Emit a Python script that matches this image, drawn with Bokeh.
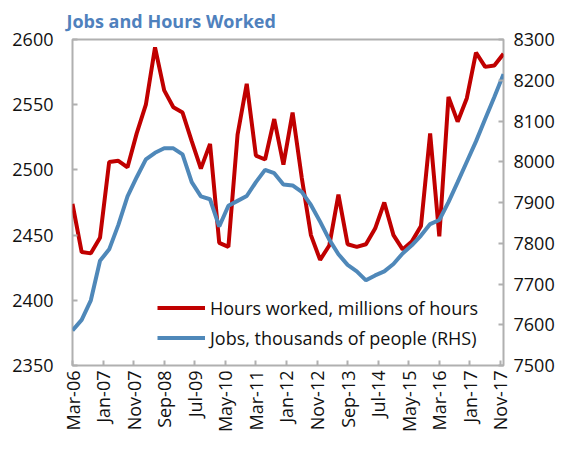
from bokeh.plotting import figure
from bokeh.models import Range1d, LinearAxis, FixedTicker, Legend, LegendItem
from bokeh.embed import file_html
from bokeh.resources import INLINE
import math

# Quarterly observations, Mar-06 .. Dec-17 (month offsets from Mar-06)
months = list(range(0, 144, 3))

hours = [2474, 2437, 2436, 2448, 2506, 2507, 2502, 2528, 2550, 2594,
         2561, 2548, 2544, 2522, 2501, 2520, 2444, 2441, 2527, 2566,
         2511, 2508, 2539, 2504, 2544, 2494, 2450, 2431, 2442, 2481,
         2443, 2441, 2443, 2455, 2475, 2450, 2439, 2445, 2457, 2528,
         2449, 2556, 2537, 2555, 2590, 2579, 2580, 2589]

jobs = [7586, 7612, 7660, 7757, 7785, 7845, 7915, 7962, 8006, 8022,
        8033, 8033, 8018, 7950, 7915, 7908, 7841, 7892, 7904, 7916,
        7950, 7980, 7972, 7944, 7942, 7926, 7894, 7853, 7809, 7773,
        7747, 7731, 7709, 7721, 7731, 7749, 7775, 7795, 7819, 7847,
        7857, 7901, 7950, 8000, 8050, 8105, 8159, 8215]

tick_months = [0, 10, 20, 30, 40, 50, 60, 70, 80, 90, 100, 110, 120, 130, 140]
tick_labels = ["Mar-06", "Jan-07", "Nov-07", "Sep-08", "Jul-09", "May-10",
               "Mar-11", "Jan-12", "Nov-12", "Sep-13", "Jul-14", "May-15",
               "Mar-16", "Jan-17", "Nov-17"]
left_ticks = [2350, 2400, 2450, 2500, 2550, 2600]
right_ticks = [7500, 7600, 7700, 7800, 7900, 8000, 8100, 8200, 8300]

FONT = "Open Sans"
RED = "#C00000"
BLUE = "#4F88B9"
GRAY = "#B0B0B0"

p = figure(width=557, height=435, output_backend="svg", toolbar_location=None,
           x_range=Range1d(0, 141), y_range=Range1d(2350, 2600),
           min_border_left=72, min_border_right=52, min_border_top=37,
           min_border_bottom=70)
p.extra_y_ranges = {"jobs": Range1d(7500, 8300)}

p.title.text = "Jobs and Hours Worked"
p.title.text_font = FONT
p.title.text_font_size = "18px"
p.title.text_font_style = "bold"
p.title.text_color = "#4F81BD"
p.title.align = "left"
p.title.offset = -6
p.title.standoff = 13

p.xgrid.visible = False
p.ygrid.visible = False
p.outline_line_color = GRAY
p.outline_line_width = 2
p.background_fill_color = "white"
p.border_fill_color = "white"

r_hours = p.line(months, hours, line_color=RED, line_width=4)
r_jobs = p.line(months, jobs, line_color=BLUE, line_width=4, y_range_name="jobs")

def style(ax, standoff):
    ax.axis_line_color = None
    ax.major_tick_in = 5
    ax.major_tick_out = 0
    ax.major_tick_line_color = GRAY
    ax.major_tick_line_width = 2
    ax.minor_tick_line_color = None
    ax.major_label_text_font = FONT
    ax.major_label_text_font_size = "18px"
    ax.major_label_text_color = "#111111"
    ax.major_label_standoff = standoff

xa = p.xaxis[0]
xa.ticker = FixedTicker(ticks=tick_months)
xa.major_label_overrides = {m: l for m, l in zip(tick_months, tick_labels)}
xa.major_label_orientation = math.pi / 2
style(xa, 5)

ya = p.yaxis[0]
ya.ticker = FixedTicker(ticks=left_ticks)
style(ya, 19)

ra = LinearAxis(y_range_name="jobs", ticker=FixedTicker(ticks=right_ticks))
style(ra, 10)
p.add_layout(ra, "right")

legend = Legend(items=[
    LegendItem(label="Hours worked, millions of hours", renderers=[r_hours]),
    LegendItem(label="Jobs, thousands of people (RHS)", renderers=[r_jobs]),
], location=(85, 15))
legend.background_fill_alpha = 0
legend.border_line_color = None
legend.padding = 0
legend.margin = 0
legend.spacing = 5
legend.glyph_width = 48
legend.glyph_height = 25
legend.label_height = 25
legend.label_standoff = 5
legend.label_text_font = FONT
legend.label_text_font_size = "18px"
legend.label_text_color = "#111111"
p.add_layout(legend)

open("out.html", "w").write(file_html(p, INLINE))
